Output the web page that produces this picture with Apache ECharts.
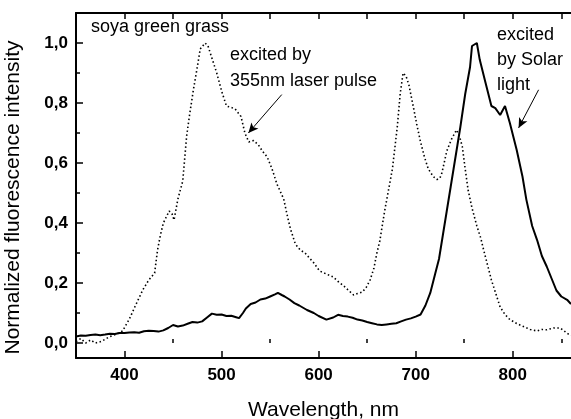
<!DOCTYPE html>
<html lang="en">
<head>
    <meta charset="UTF-8">
    <title>soya green grass fluorescence</title>
    <script src="https://cdn.jsdelivr.net/npm/echarts@6/dist/echarts.min.js"></script>
</head>
<body style="margin:0;background:#fff;">
<div id="main" style="width:571px;height:419px;"></div>
<script>
    // laser excited spectrum (dotted)
    var laserWl = [350,355,360,365,370,376,384,392,398,405,412,419,425,431,434,437,440,446,449,451,455,460,464,467,471,475,478,483,486,490,495,500,502,505,510,514,520,524,528,533,538,542,547,552,557,564,568,571,576,581,586,590,595,601,608,615,620,626,631,636,640,645,649,653,657,660,663,668,672,676,681,684,687,690,693,698,701,705,709,713,718,722,725,727,730,732,737,742,745,748,751,754,758,763,767,770,774,778,783,787,792,797,804,811,818,825,830,835,842,849,853,858,860];
    var laserVal = [0.005,0.015,0.0,0.01,0.0,0.005,0.02,0.03,0.04,0.08,0.13,0.178,0.21,0.233,0.31,0.36,0.40,0.44,0.43,0.41,0.48,0.54,0.69,0.76,0.845,0.92,0.98,1.0,0.99,0.95,0.90,0.84,0.82,0.79,0.785,0.78,0.755,0.70,0.67,0.675,0.66,0.64,0.62,0.58,0.53,0.48,0.42,0.38,0.33,0.31,0.30,0.285,0.267,0.24,0.23,0.22,0.205,0.19,0.175,0.16,0.165,0.17,0.185,0.21,0.25,0.30,0.34,0.44,0.51,0.58,0.72,0.83,0.90,0.89,0.86,0.78,0.73,0.67,0.62,0.58,0.555,0.545,0.55,0.567,0.61,0.64,0.68,0.71,0.69,0.655,0.58,0.51,0.45,0.39,0.35,0.31,0.26,0.21,0.16,0.12,0.095,0.078,0.065,0.055,0.045,0.04,0.045,0.044,0.05,0.05,0.04,0.028,0.025];

    // solar excited spectrum (solid)
    var solarWl = [350,355,360,365,370,375,380,385,390,395,400,405,410,415,420,425,430,435,440,445,450,455,460,465,470,475,480,485,490,495,500,505,510,515,518,522,525,530,535,540,545,550,555,558,562,565,570,575,580,588,595,600,608,615,620,625,630,635,640,645,650,655,660,665,670,675,680,685,690,695,700,705,710,715,720,724,728,732,736,739,743,746,751,756,758,763,766,772,778,782,787,792,797,804,810,814,820,825,830,835,840,845,850,856,860];
    var solarVal = [0.022,0.025,0.024,0.027,0.028,0.026,0.028,0.031,0.030,0.033,0.033,0.035,0.036,0.034,0.039,0.041,0.040,0.038,0.042,0.050,0.060,0.055,0.058,0.064,0.070,0.068,0.072,0.085,0.098,0.094,0.095,0.090,0.091,0.086,0.083,0.100,0.115,0.130,0.135,0.145,0.148,0.155,0.162,0.167,0.160,0.155,0.145,0.133,0.125,0.110,0.100,0.090,0.078,0.085,0.094,0.090,0.088,0.084,0.078,0.075,0.070,0.066,0.062,0.060,0.062,0.064,0.066,0.072,0.078,0.082,0.088,0.095,0.125,0.167,0.230,0.280,0.360,0.440,0.520,0.580,0.660,0.720,0.830,0.920,0.990,1.000,0.944,0.867,0.790,0.783,0.760,0.790,0.733,0.644,0.555,0.478,0.390,0.344,0.290,0.255,0.215,0.175,0.155,0.144,0.130];

    var xMajor = [400,500,600,700,800];
    var xMinor = [450,550,650,750,850];
    var xTop = [400,450,500,550,600,650,700,750,800,850];
    var yMajor = [0,0.2,0.4,0.6,0.8,1.0];
    var yMinor = [0.1,0.3,0.5,0.7,0.9];

    // arrows [from, to] in data coords
    var laserArrow = [[562,0.828],[527.6,0.70]];
    var solarArrow = [[826.6,0.844],[806,0.717]];

    function pairs(xs, ys){
        var out=[];
        for(var i=0;i<xs.length;i++){ out.push([xs[i],ys[i]]); }
        return out;
    }

    var font = 'Arial, "Liberation Sans", sans-serif';
    var tickLbl = {fontFamily: font, fontWeight: 'bold', fontSize: 17, color: '#000'};
    var axLine = {show: true, onZero: false, lineStyle: {color: '#000', width: 2}};

    var myChart = echarts.init(document.getElementById('main'));
    var option = {
        animation: false,
        backgroundColor: '#fff',
        grid: {left: 76, right: 0, top: 13, bottom: 61, containLabel: false, outerBoundsMode: 'none'},
        xAxis: [
            {
                type: 'value', position: 'bottom', min: 350, max: 860,
                axisLine: axLine,
                axisTick: {show: true, inside: true, length: 7, customValues: xMajor, lineStyle: {color: '#000', width: 1.5}},
                axisLabel: Object.assign({customValues: xMajor, margin: 9}, tickLbl),
                splitLine: {show: false},
                name: 'Wavelength, nm', nameLocation: 'middle', nameGap: 42,
                nameTextStyle: {fontFamily: font, fontSize: 21, color: '#000'}
            },
            {
                type: 'value', position: 'bottom', min: 350, max: 860,
                axisLine: {show: false},
                axisTick: {show: true, inside: true, length: 4, customValues: xMinor, lineStyle: {color: '#000', width: 1.5}},
                axisLabel: {show: false}, splitLine: {show: false}
            },
            {
                type: 'value', position: 'top', min: 350, max: 860,
                axisLine: axLine,
                axisTick: {show: true, inside: true, length: 6, customValues: xTop, lineStyle: {color: '#000', width: 1.5}},
                axisLabel: {show: false}, splitLine: {show: false}
            }
        ],
        yAxis: [
            {
                type: 'value', position: 'left', min: -0.05, max: 1.1,
                axisLine: axLine,
                axisTick: {show: true, inside: true, length: 7, customValues: yMajor, lineStyle: {color: '#000', width: 1.5}},
                axisLabel: Object.assign({customValues: yMajor, margin: 8, formatter: function(v){ return v.toFixed(1).replace('.', ','); }}, tickLbl),
                splitLine: {show: false},
                name: 'Normalized fluorescence intensity', nameLocation: 'middle', nameGap: 52,
                nameTextStyle: {fontFamily: font, fontSize: 21, color: '#000', padding: [0, 24, 0, 0]}
            },
            {
                type: 'value', position: 'left', min: -0.05, max: 1.1,
                axisLine: {show: false},
                axisTick: {show: true, inside: true, length: 4, customValues: yMinor, lineStyle: {color: '#000', width: 1.5}},
                axisLabel: {show: false}, splitLine: {show: false}
            }
        ],
        series: [
            {
                name: 'excited by 355nm laser pulse', type: 'line',
                data: pairs(laserWl, laserVal), showSymbol: false, symbol: 'none',
                lineStyle: {color: '#000', width: 1.6, type: [1.5, 2.5]},
                markLine: {
                    silent: true, symbol: ['none', 'arrow'], symbolSize: [7, 10],
                    label: {show: false},
                    lineStyle: {color: '#000', width: 1, type: 'solid'},
                    data: [
                        [{coord: laserArrow[0]}, {coord: laserArrow[1]}],
                        [{coord: solarArrow[0]}, {coord: solarArrow[1]}]
                    ]
                }
            },
            {
                name: 'excited by Solar light', type: 'line',
                data: pairs(solarWl, solarVal), showSymbol: false, symbol: 'none',
                lineStyle: {color: '#000', width: 2}
            }
        ],
        graphic: [
            {type: 'text', left: 91, top: 18, style: {text: 'soya green grass', font: '18px ' + font, fill: '#000'}},
            {type: 'text', left: 230, top: 46, style: {text: 'excited by', font: '18px ' + font, fill: '#000'}},
            {type: 'text', left: 230, top: 72, style: {text: '355nm laser pulse', font: '18px ' + font, fill: '#000'}},
            {type: 'text', left: 497, top: 26, style: {text: 'excited', font: '18px ' + font, fill: '#000'}},
            {type: 'text', left: 497, top: 51, style: {text: 'by Solar', font: '18px ' + font, fill: '#000'}},
            {type: 'text', left: 497, top: 76, style: {text: 'light', font: '18px ' + font, fill: '#000'}}
        ]
    };
    myChart.setOption(option);
</script>
</body>
</html>
